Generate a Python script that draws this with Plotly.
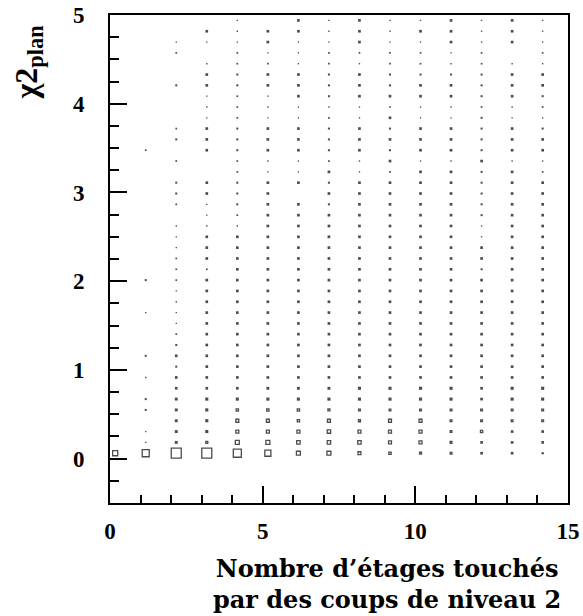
import plotly.graph_objects as go

# bin centres of the 2D histogram (x: number of stages, y: chi2_plan)
x_bins = [0.17, 1.17, 2.17, 3.17, 4.17, 5.17, 6.17, 7.17, 8.17, 9.17,
          10.17, 11.17, 12.17, 13.17, 14.17]
y_bins = [0.061, 0.183, 0.305, 0.427, 0.549, 0.671, 0.793, 0.915, 1.037, 1.159,
          1.281, 1.403, 1.524, 1.646, 1.768, 1.890, 2.012, 2.134, 2.256, 2.378,
          2.500, 2.622, 2.744, 2.866, 2.988, 3.110, 3.232, 3.354, 3.476, 3.598,
          3.720, 3.841, 3.963, 4.085, 4.207, 4.329, 4.451, 4.573, 4.695, 4.817,
          4.939]

# bin contents per column, bottom row first (arbitrary units, max = 100)
n_col00 = [55, 0, 0, 0, 0, 0, 0, 0, 0, 0, 0, 0, 0, 0, 0, 0, 0, 0, 0, 0,
           0, 0, 0, 0, 0, 0, 0, 0, 0, 0, 0, 0, 0, 0, 0, 0, 0, 0, 0, 0, 0]
n_col01 = [73, 6, 6, 0, 12, 12, 0, 6, 0, 12, 0, 0, 0, 6, 0, 0, 12, 0, 0, 0,
           0, 0, 0, 0, 0, 0, 0, 0, 9, 0, 0, 0, 0, 0, 0, 0, 0, 0, 0, 0, 0]
n_col02 = [100, 20, 20, 20, 20, 20, 18, 18, 12, 18, 12, 9, 6, 6, 6, 6, 9, 9, 9, 6,
           6, 6, 0, 9, 12, 12, 0, 9, 0, 12, 9, 0, 0, 0, 12, 0, 0, 9, 6, 0, 0]
n_col03 = [100, 27, 22, 22, 22, 22, 18, 18, 18, 18, 18, 18, 18, 18, 18, 18, 18, 9, 18, 18,
           18, 6, 6, 6, 18, 18, 0, 0, 18, 18, 18, 6, 6, 6, 18, 18, 6, 0, 6, 18, 0]
n_col04 = [82, 45, 36, 36, 30, 22, 18, 18, 18, 18, 18, 18, 18, 18, 18, 18, 18, 18, 18, 18,
           18, 6, 9, 12, 12, 12, 9, 9, 12, 12, 12, 9, 9, 9, 12, 12, 9, 9, 6, 6, 6]
n_col05 = [64, 45, 36, 36, 30, 22, 20, 18, 18, 18, 18, 18, 18, 18, 18, 18, 18, 18, 18, 18,
           18, 18, 18, 18, 18, 18, 6, 6, 18, 18, 18, 6, 6, 6, 18, 18, 9, 6, 18, 18, 0]
n_col06 = [45, 40, 36, 30, 30, 22, 20, 18, 18, 18, 18, 18, 18, 18, 18, 18, 18, 18, 18, 18,
           18, 18, 18, 18, 0, 18, 6, 6, 18, 18, 18, 6, 6, 18, 18, 18, 6, 6, 6, 18, 18]
n_col07 = [45, 40, 40, 36, 27, 22, 20, 18, 18, 18, 18, 18, 18, 18, 18, 18, 18, 18, 18, 18,
           18, 18, 18, 12, 18, 12, 18, 9, 12, 12, 12, 9, 6, 12, 12, 12, 9, 9, 6, 6, 6]
n_col08 = [36, 40, 36, 27, 25, 22, 22, 18, 18, 18, 18, 18, 18, 18, 18, 18, 18, 18, 18, 18,
           18, 18, 18, 18, 18, 18, 6, 6, 18, 18, 18, 6, 6, 18, 18, 18, 6, 9, 18, 18, 18]
n_col09 = [30, 36, 36, 36, 25, 22, 22, 18, 18, 18, 18, 18, 18, 18, 18, 18, 18, 18, 18, 18,
           18, 18, 18, 18, 18, 18, 9, 18, 12, 18, 12, 18, 9, 18, 12, 12, 9, 9, 6, 6, 6]
n_col10 = [27, 36, 36, 36, 25, 22, 22, 18, 18, 18, 18, 18, 18, 18, 18, 18, 18, 18, 18, 18,
           18, 18, 18, 18, 18, 18, 18, 6, 18, 18, 18, 6, 6, 18, 18, 12, 9, 9, 6, 18, 6]
n_col11 = [25, 25, 25, 25, 25, 22, 22, 18, 18, 18, 18, 18, 18, 18, 18, 18, 18, 18, 18, 18,
           18, 18, 18, 18, 18, 18, 18, 6, 18, 18, 18, 6, 6, 18, 18, 12, 6, 6, 18, 18, 18]
n_col12 = [18, 18, 30, 25, 25, 18, 18, 18, 18, 18, 18, 18, 18, 18, 18, 18, 18, 12, 18, 18,
           6, 6, 12, 12, 12, 12, 12, 18, 12, 12, 12, 12, 9, 12, 12, 12, 9, 9, 6, 6, 6]
n_col13 = [18, 18, 18, 25, 25, 22, 22, 18, 18, 18, 18, 18, 18, 18, 18, 18, 18, 18, 18, 18,
           18, 18, 18, 18, 18, 18, 18, 6, 18, 18, 18, 6, 6, 18, 18, 18, 6, 0, 18, 18, 18]
n_col14 = [14, 18, 18, 25, 25, 22, 22, 18, 18, 18, 18, 18, 18, 18, 18, 18, 18, 18, 18, 18,
           18, 18, 18, 18, 18, 18, 9, 6, 18, 18, 12, 6, 9, 12, 18, 18, 6, 9, 6, 6, 6]

columns = [n_col00, n_col01, n_col02, n_col03, n_col04, n_col05, n_col06, n_col07,
           n_col08, n_col09, n_col10, n_col11, n_col12, n_col13, n_col14]

px_per_unit = 0.11  # box side in pixels per unit of content
fine_x, fine_y, fine_s = [], [], []
box_x, box_y, box_s = [], [], []
for xc, col in zip(x_bins, columns):
    for yc, n in zip(y_bins, col):
        if n <= 0:
            continue
        side = n * px_per_unit
        if n < 25:
            # tiny boxes look like filled dots
            fine_x.append(xc); fine_y.append(yc); fine_s.append(side + 0.7)
        else:
            box_x.append(xc); box_y.append(yc); box_s.append(side - 1)

fig = go.Figure()
fig.add_trace(go.Scatter(x=fine_x, y=fine_y, mode="markers",
                         marker=dict(symbol="square", size=fine_s, color="black",
                                     line=dict(width=0)),
                         hoverinfo="skip"))
fig.add_trace(go.Scatter(x=box_x, y=box_y, mode="markers",
                         marker=dict(symbol="square-open", size=box_s, color="black",
                                     line=dict(width=1.3, color="black")),
                         hoverinfo="skip"))

serif = "Liberation Serif, Times New Roman, serif"
wide_serif = "DejaVu Serif, serif"

axis_style = dict(ticks="inside", ticklen=17, tickwidth=2, tickcolor="black",
                  showgrid=False, zeroline=False, showline=True, linecolor="black",
                  linewidth=2, mirror=True, automargin=False,
                  tickfont=dict(family=serif, size=23, color="black", weight="bold"))

fig.update_layout(
    width=583, height=616,
    margin=dict(l=110, r=15, t=15, b=113),
    paper_bgcolor="white", plot_bgcolor="white",
    showlegend=False,
    xaxis=dict(range=[0, 15], tickvals=[0, 5, 10, 15], ticklabelstandoff=6,
               minor=dict(dtick=1, ticks="inside", ticklen=8, tickwidth=2,
                          tickcolor="black", showgrid=False),
               **axis_style),
    yaxis=dict(range=[-0.5, 5], tickvals=[0, 1, 2, 3, 4, 5], ticklabelstandoff=19,
               minor=dict(dtick=0.25, ticks="inside", ticklen=9, tickwidth=2,
                          tickcolor="black", showgrid=False),
               **axis_style),
)

fig.add_annotation(text="Nombre d’étages touchés<br>par des coups de niveau 2",
                   xref="paper", yref="paper", x=0.605, y=-0.1,
                   xanchor="center", yanchor="top", align="center", showarrow=False,
                   font=dict(family=wide_serif, size=24, color="black", weight="bold"))
fig.add_annotation(text="χ2<sub>plan</sub>", textangle=-90,
                   xref="paper", yref="paper", x=-0.179, y=0.9836,
                   xanchor="center", yanchor="top", showarrow=False,
                   font=dict(family=serif, size=32, color="black", weight="bold"))

# drop the default 8px body margin so the figure sits at the page corner
fig.write_html("out.html", config={"displayModeBar": False},
               post_script="document.body.style.margin='0';")
